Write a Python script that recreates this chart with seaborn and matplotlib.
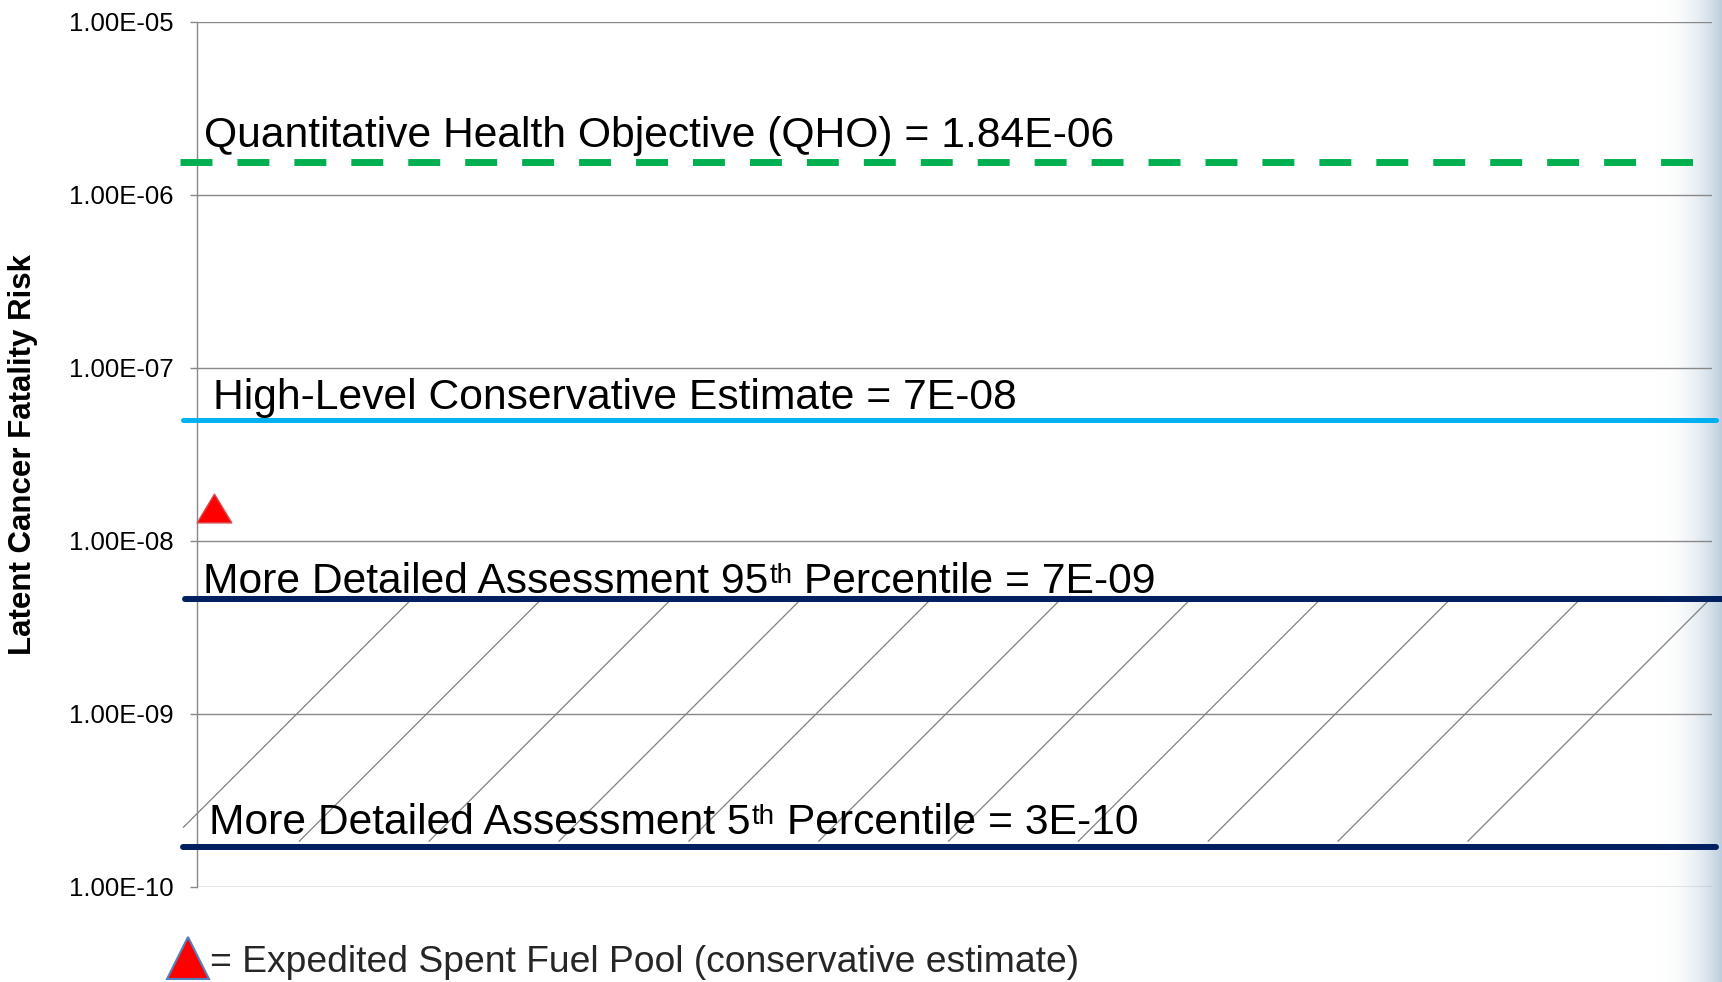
import matplotlib
matplotlib.use("Agg")

import matplotlib.pyplot as plt  # noqa: E402
import numpy as np  # noqa: E402
import seaborn as sns  # noqa: E402
from matplotlib.lines import Line2D  # noqa: E402
from matplotlib.markers import MarkerStyle  # noqa: E402
from matplotlib.path import Path  # noqa: E402
from matplotlib.ticker import FixedLocator, FuncFormatter, NullLocator  # noqa: E402

# ── Data ─────────────────────────────────────────────────────────────────────
# where each reference line sits on the log axis, and the label written over it
# ("^th^" marks a superscript)
line_values = [1.55e-6, 5.0e-8, 4.6e-9, 1.69e-10]
line_labels = [
    "Quantitative Health Objective (QHO) = 1.84E-06",
    "High-Level Conservative Estimate = 7E-08",
    "More Detailed Assessment 95^th^ Percentile = 7E-09",
    "More Detailed Assessment 5^th^ Percentile = 3E-10",
]
line_colors = ["#00b050", "#00b0f0", "#002060", "#002060"]

esfp_x = [0.011]
esfp_y = [1.55e-8]
esfp_label = "= Expedited Spent Fuel Pool (conservative estimate)"

y_ticks = [1e-10, 1e-9, 1e-8, 1e-7, 1e-6, 1e-5]
y_label = "Latent Cancer Fatality Risk"

# ── Style ────────────────────────────────────────────────────────────────────
sns.set_theme(style="white")
plt.rcParams["font.family"] = ["Liberation Sans", "DejaVu Sans"]

W, H = 1722, 982
fig = plt.figure(figsize=(W / 100, H / 100), dpi=100, facecolor="white")

# pale blue fade along the right edge (slide background)
bg = fig.add_axes([1655 / W, 0, (W - 1655) / W, 1], zorder=0)
ramp = np.linspace(0, 1, 300) ** 2.3
edge = np.array([0.74, 0.81, 0.87])
rgba = np.ones((1, 300, 4))
rgba[0, :, :3] = 1 - ramp[:, None] * (1 - edge)
bg.imshow(rgba, aspect="auto", extent=(0, 1, 0, 1))
bg.axis("off")

ax_l, ax_b, ax_w, ax_h = 197, 982 - 886.7, 1515, 865
ax = fig.add_axes([ax_l / W, ax_b / H, ax_w / W, ax_h / H], zorder=1)
ax.patch.set_alpha(0)

# ── Marks ────────────────────────────────────────────────────────────────────
sns.scatterplot(
    x=esfp_x, y=esfp_y, ax=ax,
    marker=MarkerStyle(Path([(0, 0.83), (-1, -0.83), (1, -0.83), (0, 0.83)], closed=True)),
    s=25 ** 2, color="#ff0000", edgecolor="#d94f4f", linewidth=1, zorder=4, clip_on=False,
)

ax.set_yscale("log")
ax.set_ylim(1e-10, 1e-5)
ax.set_xlim(0, 1)

line_x = [(-0.0112, 1.0026), (-0.0092, 1.0026), (-0.008, 1.0066), (-0.009, 1.0026)]
line_w = [5.0, 3.6, 4.3, 4.3]
for val, col, (x0, x1), lw in zip(line_values, line_colors, line_x, line_w):
    kw = dict(dashes=(4.6, 3.6)) if col == "#00b050" else {}
    ax.axhline(val, xmin=x0, xmax=x1, color=col, lw=lw, clip_on=False, zorder=3, **kw)

# diagonal hatching between the 5th and 95th percentile lines
lo, hi = line_values[3] * 10 ** (6 / 173), line_values[2]
dec = (ax_h / 5) / ax_w
x_min = -0.009
for xc in np.linspace(0.066, 0.923, 11):
    ys = np.log10([lo, hi])
    xs = xc + (ys + 9) * dec
    if xs[0] < x_min:
        ys[0] = (x_min - xc) / dec - 9
        xs[0] = x_min
    ax.plot(xs, 10 ** ys, color="#808080", lw=0.9, zorder=2, clip_on=False)

# labels above each line
text_x = [0.0046, 0.0105, 0.004, 0.008]
text_dy = [10.8, 7.9, 4.3, 9.4]
fs = 30.7
for val, lab, tx, dy in zip(line_values, line_labels, text_x, text_dy):
    parts = lab.split("^")
    t1 = ax.annotate(parts[0], xy=(tx, val), xycoords=("axes fraction", "data"),
                     xytext=(0, dy), textcoords="offset points",
                     ha="left", va="baseline", fontsize=fs, color="black", zorder=5)
    if len(parts) == 3:
        t2 = ax.annotate(parts[1], xy=(1.002, 0.97), xycoords=t1, ha="left", va="top",
                         fontsize=fs * 0.65, color="black", zorder=5)
        ax.annotate(parts[2], xy=(1, 0), xycoords=(t2, t1), ha="left", va="bottom",
                    fontsize=fs, color="black", zorder=5)

# ── Axes styling ─────────────────────────────────────────────────────────────
ax.yaxis.set_major_locator(FixedLocator(y_ticks))
ax.yaxis.set_minor_locator(NullLocator())
ax.yaxis.set_major_formatter(FuncFormatter(lambda v, _: f"{v:.2E}"))
ax.yaxis.grid(True, color="#888888", lw=1)
ax.xaxis.grid(False)
ax.set_xticks([])
ax.tick_params(axis="y", left=True, length=5, width=1, color="#888888",
               labelsize=18.5, pad=12, labelcolor="black")
for side in ["top", "right", "bottom"]:
    ax.spines[side].set_visible(False)
ax.spines["left"].set_color("#888888")
ax.spines["left"].set_linewidth(1)

ax.set_ylabel(y_label, fontsize=22.5, fontweight="bold", color="black")
ax.yaxis.set_label_coords(-0.105, 0.5)

handle = Line2D([], [], linestyle="none", marker="^", markersize=30,
                markerfacecolor="#ff0000", markeredgecolor="#4f81bd", markeredgewidth=1.5)
fig.legend([handle], [esfp_label], loc="center left",
           bbox_to_anchor=(167 / W, 1 - 962 / H), frameon=False, fontsize=26.8,
           handlelength=1.15, handletextpad=0, borderpad=0, borderaxespad=0, numpoints=1)

fig.savefig("out.png", dpi=100)
plt.close(fig)
